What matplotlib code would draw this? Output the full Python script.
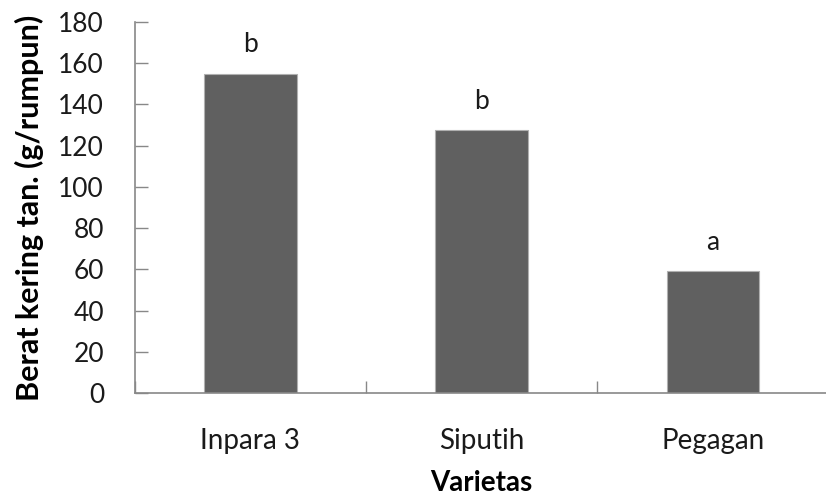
import matplotlib.pyplot as plt

varietas = ["Inpara 3", "Siputih", "Pegagan"]
berat = [155, 127.5, 59]
notasi = ["b", "b", "a"]

plt.rcParams['font.family'] = ['Lato', 'DejaVu Sans']

fig = plt.figure(figsize=(8.26, 5), dpi=100)
ax = fig.add_axes([0.163, 0.214, 0.84, 0.742])

x = range(len(varietas))
bars = ax.bar(x, berat, width=0.4, color="#606060", edgecolor="#b0b0b0", linewidth=0.8)

# huruf notasi uji lanjut di atas batang
for i, (v, n) in enumerate(zip(berat, notasi)):
    ax.annotate(n, (i, v), xytext=(0, 12), textcoords="offset points",
                ha="center", va="bottom", fontsize=19, color="#1a1a1a")

ax.set_xlim(-0.5, 2.5)
ax.set_ylim(0, 180)
ax.set_yticks(range(0, 181, 20))
ax.set_xticks(x)
ax.set_xticklabels(varietas)

# garis pemisah kategori di sumbu x
ax.set_xticks([-0.5, 0.5, 1.5, 2.5], minor=True)
ax.tick_params(axis="x", which="major", length=0, pad=25, labelsize=20, labelcolor="#1a1a1a")
ax.tick_params(axis="x", which="minor", direction="in", length=9, color="#888888", width=1)
ax.tick_params(axis="y", direction="in", length=9, color="#888888", width=1,
               labelsize=19, labelcolor="#1a1a1a", pad=22)

for s in ["top", "right"]:
    ax.spines[s].set_visible(False)
for s in ["left", "bottom"]:
    ax.spines[s].set_color("#888888")
    ax.spines[s].set_linewidth(1.2)

ax.set_xlabel("Varietas", fontsize=20, fontweight="bold", labelpad=12)
ax.set_ylabel("Berat kering tan. (g/rumpun)", fontsize=22, fontweight="bold", labelpad=10)

fig.savefig("out.png", dpi=100)
